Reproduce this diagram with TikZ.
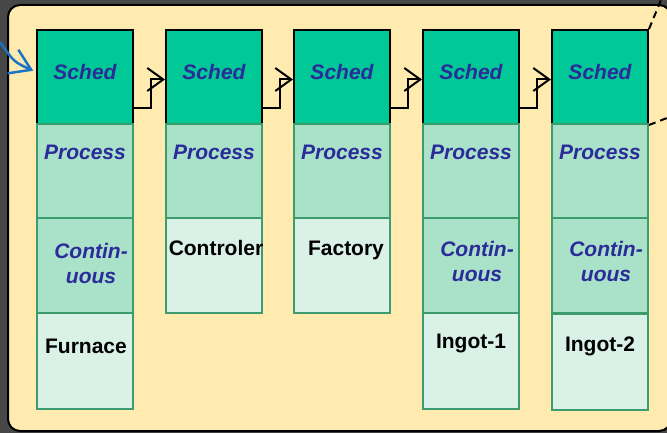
\documentclass[tikz,border=0pt]{standalone}
\usepackage{fontspec}
\setmainfont{Liberation Sans}
\usetikzlibrary{arrows.meta}

\definecolor{backdrop}{HTML}{474747}
\definecolor{panelfill}{HTML}{FFEAB0}
\definecolor{schedfill}{HTML}{00C896}
\definecolor{procfill}{HTML}{A9E1C9}
\definecolor{objfill}{HTML}{DAF1E7}
\definecolor{cellline}{HTML}{3C9C6E}
\definecolor{bluetext}{HTML}{2B2B99}
\definecolor{entryblue}{HTML}{1C74C4}

\tikzset{
  cell/.style={draw=cellline, line width=2pt, minimum width=96pt, minimum height=94pt, inner sep=0pt},
  schedcell/.style={cell, fill=schedfill, draw=black},
  proccell/.style={cell, fill=procfill},
  objcell/.style={cell, fill=objfill},
  blueword/.style={font=\fontsize{21}{25}\selectfont\bfseries\itshape, text=bluetext, align=center},
  blackword/.style={font=\fontsize{21}{25}\selectfont\bfseries, text=black},
  link/.style={line width=2pt, -{Straight Barb[length=16pt,width=23pt]}},
  entrylink/.style={line width=2.5pt, entryblue, shorten >=3pt, -{Straight Barb[length=20pt,width=26pt]}},
  zoomline/.style={line width=2pt, dash pattern=on 7pt off 5pt},
}

\begin{document}
\begin{tikzpicture}[x=1pt,y=-1pt]
  \useasboundingbox (0,0) rectangle (667,433);
  \fill[backdrop] (0,0) rectangle (667,433);
  \draw[line width=2pt, fill=panelfill, rounded corners=12pt] (8,5) rectangle (671,431);

  % scheduler and process layers
  \foreach \i/\x in {1/85,2/214,3/342,4/471,5/600}{
    \node[schedcell, label={[blueword,yshift=5pt]center:Sched}] (s\i) at (\x,77) {};
    \node[proccell, label={[blueword,yshift=19pt]center:Process}] (p\i) at (\x,171) {};
  }

  % third and fourth layers
  \node[proccell, minimum height=95pt, label={[blueword,xshift=6pt,yshift=2pt]center:Contin-\\uous}] (c1) at (85,265.5) {};
  \node[objcell, minimum height=95pt, label={[blackword,xshift=2pt,yshift=18pt]center:Controler}] (o2) at (214,265.5) {};
  \node[objcell, minimum height=95pt, label={[blackword,xshift=4pt,yshift=15pt]center:Factory}] (o3) at (342,265.5) {};
  \node[proccell, minimum height=95pt, label={[blueword,xshift=6pt,yshift=4pt]center:Contin-\\uous}] (c4) at (471,265.5) {};
  \node[proccell, minimum height=95pt, label={[blueword,xshift=6pt,yshift=4pt]center:Contin-\\uous}] (c5) at (600,265.5) {};
  \node[objcell, minimum height=96pt, label={[blackword,xshift=1pt,yshift=15pt]center:Furnace}] (f1) at (85,361) {};
  \node[objcell, minimum height=96pt, label={[blackword,yshift=18pt]center:Ingot-1}] (g4) at (471,361) {};
  \node[objcell, minimum height=96pt, label={[blackword,yshift=16pt]center:Ingot-2}] (g5) at (600,362) {};

  % links between schedulers
  \foreach \i/\j in {1/2,2/3,3/4,4/5}
    \draw[link] ([yshift=17pt]s\i.south east) -- ++(17,0) |- ([yshift=-2.5pt]s\j.west);

  \coordinate (entry) at (0,42);
  \draw[entrylink] (entry) .. controls (14,62) .. ([yshift=5pt]s1.west);

  \coordinate (zoomtop) at (661,0);
  \coordinate (zoombot) at (667,118);
  \draw[zoomline] (s5.north east) -- (zoomtop);
  \draw[zoomline] (s5.south east) -- (zoombot);
\end{tikzpicture}
\end{document}
